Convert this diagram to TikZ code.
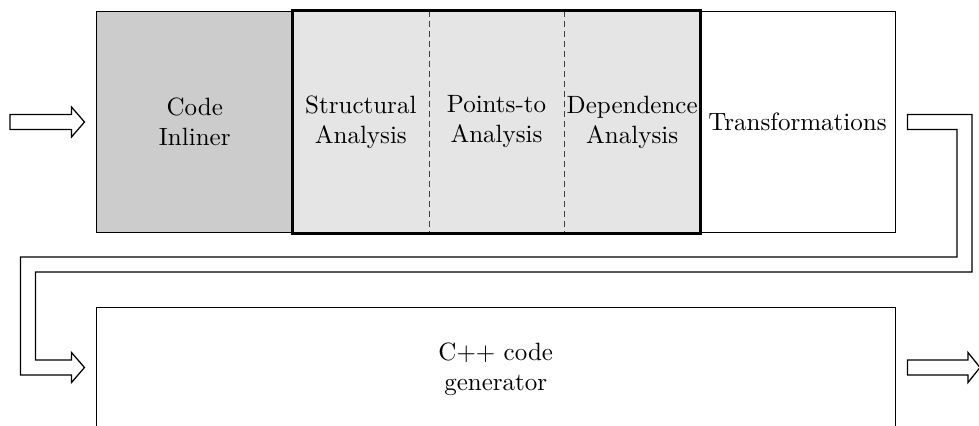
\documentclass[tikz,border=0pt]{standalone}
\usetikzlibrary{calc}
\begin{document}
\begin{tikzpicture}[x=0.4pt,y=-0.4pt,
  stage/.style={draw=black,line width=0.4pt,inner sep=0pt,align=center,minimum height=88.4pt},
  cell/.style={inner sep=0pt,align=center,minimum height=88.4pt,minimum width=54.27pt,fill=black!10},
  blk/.style={draw=black,line width=0.5pt,fill=white,line join=miter},
  sep/.style={draw=black!75,line width=0.4pt,dash pattern=on 2.4pt off 1.6pt}]
\useasboundingbox (0,0) rectangle (979,426);
% top row
\node[stage,fill=black!20,minimum width=78.6pt] (inl) at (194.75,122) {Code\\Inliner};
\node[cell] (sa) at (360.83,122) {Structural\\Analysis};
\node[cell] (pa) at (496.5,122) {Points-to\\Analysis};
\node[cell] (da) at (632.17,122) {Dependence\\Analysis};
\node[stage,minimum width=78pt] (tr) at (797.5,122) {Transformations};
\draw[sep] (sa.north east) -- (sa.south east);
\draw[sep] (pa.north east) -- (pa.south east);
\draw[line width=1.2pt] (sa.north west) rectangle (da.south east);
% bottom box
\node[stage,minimum width=319.4pt,minimum height=49.6pt] (gen) at (495.75,369) {C++ code\\generator};
% input arrow
\coordinate (inS) at (10,122);
\coordinate (inE) at ($(inl.west)+(-11.5,0)$);
\draw[blk] ($(inS)+(0,-7.5)$) -- ($(inE)+(-13,-7.5)$) -- ($(inE)+(-13,-15)$) -- (inE)
  -- ($(inE)+(-13,15)$) -- ($(inE)+(-13,7.5)$) -- ($(inS)+(0,7.5)$) -- cycle;
% connector transformations -> generator
\coordinate (c1) at ($(tr.east)+(12,0)$);
\coordinate (c2) at (964.5,122);
\coordinate (c3) at (964.5,264.5);
\coordinate (c4) at (28,264.5);
\coordinate (c5) at (28,367.5);
\coordinate (c6) at ($(gen.west |- c5)+(-11.5,0)$);
\draw[blk] ($(c1)+(0,-7.5)$) -- ($(c2)+(7.5,-7.5)$) -- ($(c3)+(7.5,7.5)$) -- ($(c4)+(7.5,7.5)$)
  -- ($(c5)+(7.5,-7.5)$) -- ($(c6)+(-13,-7.5)$) -- ($(c6)+(-13,-15)$) -- (c6)
  -- ($(c6)+(-13,15)$) -- ($(c6)+(-13,7.5)$) -- ($(c5)+(-7.5,7.5)$) -- ($(c4)+(-7.5,-7.5)$)
  -- ($(c3)+(-7.5,-7.5)$) -- ($(c2)+(-7.5,7.5)$) -- ($(c1)+(0,7.5)$) -- cycle;
% output arrow
\coordinate (outS) at ($(gen.east |- c5)+(12,0)$);
\coordinate (outE) at (980,367.5);
\draw[blk] ($(outS)+(0,-7.5)$) -- ($(outE)+(-12,-7.5)$) -- ($(outE)+(-12,-15)$) -- (outE)
  -- ($(outE)+(-12,15)$) -- ($(outE)+(-12,7.5)$) -- ($(outS)+(0,7.5)$) -- cycle;
\end{tikzpicture}
\end{document}
